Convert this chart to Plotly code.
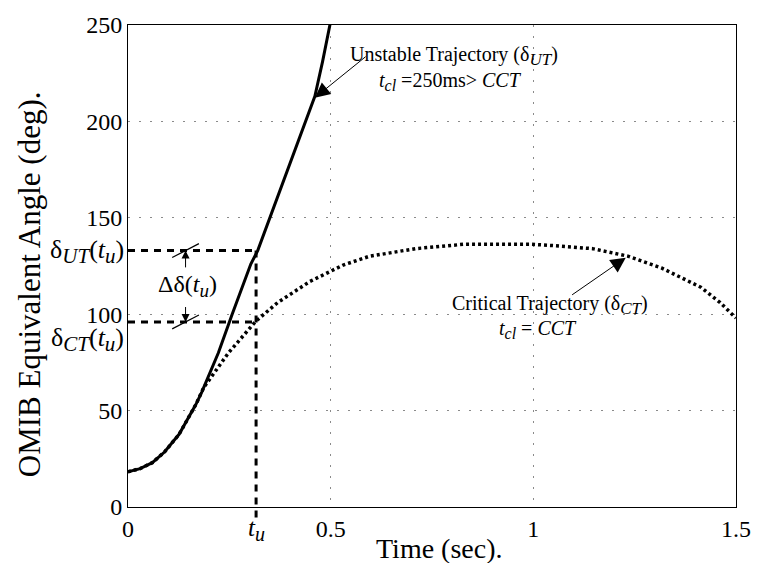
import plotly.graph_objects as go

# OMIB equivalent angle trajectories (deg) versus time (s)
t_unstable = [0, 0.03, 0.06, 0.09, 0.126, 0.167, 0.182, 0.223, 0.257, 0.303,
              0.320, 0.350, 0.400, 0.437, 0.461, 0.480, 0.500]
delta_unstable = [18.3, 19.9, 23.0, 28.5, 37.7, 53.0, 59.6, 80.0, 100.0, 126.0,
                  133.0, 150.0, 179.0, 200.0, 213.0, 231.0, 252.0]

t_critical = [0, 0.03, 0.06, 0.09, 0.126, 0.167, 0.187, 0.248, 0.316, 0.369,
              0.449, 0.531, 0.595, 0.709, 0.830, 0.993, 1.048, 1.146, 1.235,
              1.316, 1.413, 1.461, 1.500]
delta_critical = [18.3, 19.9, 23.0, 28.5, 37.7, 53.0, 62.0, 80.0, 96.5, 106.0,
                  117.0, 125.5, 130.0, 134.0, 136.3, 136.3, 135.6, 134.0, 130.0,
                  124.0, 114.0, 106.0, 98.0]

# Time instant t_u and both angles at that instant
t_u = 0.316
delta_ut_tu = 133.0
delta_ct_tu = 96.0

x_ticks = [0, 0.5, 1, 1.5]
y_ticks = [0, 50, 100, 150, 200, 250]
x_range = [0, 1.5]
y_range = [0, 250]

SERIF = "Liberation Serif"


def sub(txt, size, italic=True):
    """Subscript kept fairly large, in the style of the figure."""
    inner = f"<i>{txt}</i>" if italic else txt
    return f"<sub><span style='font-size:{size}px'>{inner}</span></sub>"


fig = go.Figure()

fig.add_trace(go.Scatter(
    x=t_unstable, y=delta_unstable, mode="lines",
    line=dict(color="black", width=3), showlegend=False, hoverinfo="skip"))

fig.add_trace(go.Scatter(
    x=t_critical, y=delta_critical, mode="lines",
    line=dict(color="black", width=3.5, dash="3px,3px"),
    showlegend=False, hoverinfo="skip"))

dash_line = dict(color="black", width=3, dash="7px,6px")

# horizontal guides at delta_UT(t_u) and delta_CT(t_u)
for yv in (delta_ut_tu, delta_ct_tu):
    fig.add_shape(type="line", xref="x", yref="y", x0=0, x1=t_u, y0=yv, y1=yv,
                  line=dash_line)

# vertical guide at t_u, running a little past the time axis
xp_tu = (t_u - x_range[0]) / (x_range[1] - x_range[0])
yp_top = (delta_ut_tu - y_range[0]) / (y_range[1] - y_range[0])
fig.add_shape(type="line", xref="paper", yref="paper", x0=xp_tu, x1=xp_tu,
              y0=yp_top, y1=-0.024, line=dash_line)

# slanted ticks marking the two ends of the gap
x_gap = 0.142
for yv in (delta_ut_tu, delta_ct_tu):
    fig.add_shape(type="line", xref="x", yref="y",
                  x0=x_gap - 0.033, x1=x_gap + 0.033, y0=yv - 3.6, y1=yv + 3.6,
                  line=dict(color="black", width=1.2))

annotations = []

# gap arrows
annotations.append(dict(x=x_gap, y=delta_ut_tu, ax=x_gap, ay=delta_ut_tu - 9.5,
                        xref="x", yref="y", axref="x", ayref="y", text="",
                        showarrow=True, arrowhead=2, arrowsize=1.6, arrowwidth=1,
                        arrowcolor="black"))
annotations.append(dict(x=x_gap, y=delta_ct_tu, ax=x_gap, ay=delta_ct_tu + 8.5,
                        xref="x", yref="y", axref="x", ayref="y", text="",
                        showarrow=True, arrowhead=2, arrowsize=1.6, arrowwidth=1,
                        arrowcolor="black"))
annotations.append(dict(x=0.146, y=(delta_ut_tu + delta_ct_tu) / 2, xref="x", yref="y",
                        text="Δδ(<i>t</i>" + sub("u", 19) + ")", showarrow=False,
                        font=dict(family=SERIF, size=24, color="black")))

# labels on the angle axis
annotations.append(dict(x=-0.004, y=delta_ut_tu, xref="paper", yref="y", xanchor="right",
                        text="δ" + sub("UT", 21) + "(<i>t</i>" + sub("u", 21) + ")",
                        showarrow=False, yshift=-1,
                        font=dict(family=SERIF, size=26, color="black")))
annotations.append(dict(x=-0.004, y=delta_ct_tu, xref="paper", yref="y", xanchor="right",
                        text="δ" + sub("CT", 21) + "(<i>t</i>" + sub("u", 21) + ")",
                        showarrow=False, yshift=-18,
                        font=dict(family=SERIF, size=26, color="black")))
annotations.append(dict(x=t_u, y=-0.046, xref="x", yref="paper", yanchor="middle",
                        text="<i>t</i>" + sub("u", 20), showarrow=False,
                        font=dict(family=SERIF, size=25, color="black")))

# trajectory call-outs
annotations.append(dict(x=0.461, y=212.3, ax=0.590, ay=234.2, xref="x", yref="y",
                        axref="x", ayref="y", text="", showarrow=True, arrowhead=2,
                        arrowsize=3, arrowwidth=1, arrowcolor="black"))
annotations.append(dict(x=0.805, y=233.7, xref="x", yref="y",
                        text="Unstable Trajectory (δ" + sub("UT", 17) + ")",
                        showarrow=False, font=dict(family=SERIF, size=20, color="black")))
annotations.append(dict(x=0.796, y=220.5, xref="x", yref="y",
                        text="<i>t</i>" + sub("cl", 16) + " =250ms> <i>CCT</i>",
                        showarrow=False, font=dict(family=SERIF, size=20, color="black")))

annotations.append(dict(x=1.228, y=129.3, ax=1.092, ay=109.5, xref="x", yref="y",
                        axref="x", ayref="y", text="", showarrow=True, arrowhead=2,
                        arrowsize=3, arrowwidth=1, arrowcolor="black"))
annotations.append(dict(x=1.041, y=105.0, xref="x", yref="y",
                        text="Critical Trajectory (δ" + sub("CT", 17) + ")",
                        showarrow=False, font=dict(family=SERIF, size=20, color="black")))
annotations.append(dict(x=1.012, y=92.2, xref="x", yref="y",
                        text="<i>t</i>" + sub("cl", 16) + " = <i>CCT</i>",
                        showarrow=False, font=dict(family=SERIF, size=20, color="black")))

# axis titles
annotations.append(dict(x=0.512, y=-0.086, xref="paper", yref="paper",
                        xanchor="center", yanchor="middle",
                        text="Time (sec).", showarrow=False,
                        font=dict(family=SERIF, size=28, color="black")))
annotations.append(dict(x=-0.163, y=0.462, xref="paper", yref="paper", textangle=-90,
                        xanchor="center", yanchor="middle",
                        text="OMIB Equivalent Angle (deg).", showarrow=False,
                        font=dict(family=SERIF, size=31, color="black")))

axis_common = dict(showline=True, linecolor="black", linewidth=1, mirror=True,
                   showgrid=True, gridcolor="#8a8a8a", gridwidth=1, griddash="2px,9px",
                   zeroline=False, ticks="", color="black",
                   tickfont=dict(family=SERIF, size=24, color="black"))

fig.update_layout(
    width=763, height=563,
    margin=dict(l=128, r=17, t=16, b=56),
    paper_bgcolor="white", plot_bgcolor="white",
    showlegend=False,
    xaxis=dict(range=x_range, tickvals=x_ticks, ticktext=["0", "0.5", "1", "1.5"],
               **axis_common),
    yaxis=dict(range=y_range, tickvals=y_ticks, **axis_common),
    annotations=annotations,
)

fig.write_html("out.html")
